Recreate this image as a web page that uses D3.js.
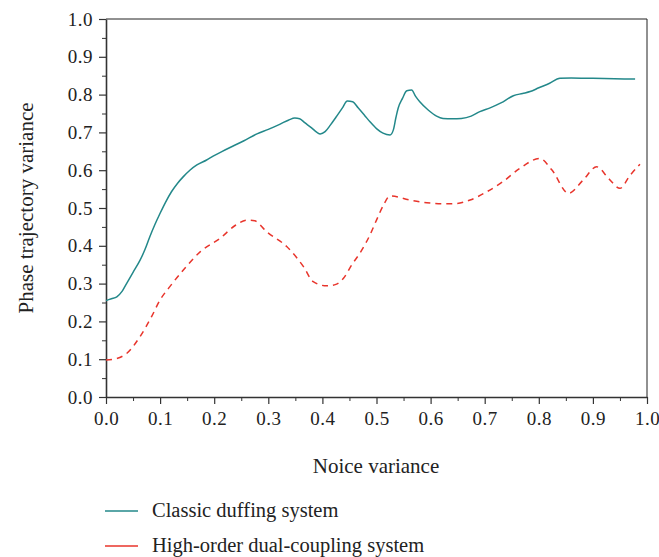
<!DOCTYPE html>
<html>
<head>
<meta charset="utf-8">
<script src="https://cdn.jsdelivr.net/npm/d3@7"></script>
<style>
  body { margin: 0; background: #fff; }
  svg text { font-family: "Liberation Serif", "DejaVu Serif", serif; fill: #222; }
</style>
</head>
<body>
<svg id="chart" width="659" height="557"></svg>
<script>
// noise variance (x) and phase trajectory variance (y)
const classicX = [0, 0.01, 0.02, 0.03, 0.038, 0.05, 0.063, 0.072, 0.081, 0.09, 0.1, 0.11, 0.121, 0.132, 0.143, 0.155, 0.168, 0.186, 0.198, 0.215, 0.235, 0.255, 0.279, 0.3, 0.322, 0.338, 0.349, 0.358, 0.368, 0.38, 0.39, 0.396, 0.405, 0.415, 0.425, 0.437, 0.446, 0.456, 0.466, 0.478, 0.488, 0.5, 0.512, 0.525, 0.531, 0.536, 0.54, 0.548, 0.556, 0.565, 0.572, 0.58, 0.595, 0.611, 0.623, 0.64, 0.657, 0.675, 0.691, 0.71, 0.73, 0.753, 0.77, 0.784, 0.8, 0.82, 0.839, 0.86, 0.9, 0.94, 0.978];
const classicY = [0.255, 0.26, 0.265, 0.28, 0.3, 0.33, 0.362, 0.39, 0.424, 0.455, 0.486, 0.515, 0.543, 0.565, 0.583, 0.6, 0.614, 0.627, 0.637, 0.65, 0.664, 0.678, 0.696, 0.708, 0.722, 0.733, 0.738, 0.736, 0.725, 0.712, 0.7, 0.696, 0.702, 0.72, 0.74, 0.765, 0.783, 0.781, 0.765, 0.745, 0.728, 0.71, 0.698, 0.693, 0.706, 0.74, 0.764, 0.79, 0.81, 0.812, 0.796, 0.781, 0.76, 0.743, 0.737, 0.736, 0.737, 0.743, 0.755, 0.765, 0.778, 0.797, 0.803, 0.808, 0.818, 0.83, 0.843, 0.844, 0.843, 0.842, 0.841];

const coupledX = [0, 0.02, 0.038, 0.063, 0.084, 0.1, 0.118, 0.143, 0.174, 0.211, 0.24, 0.26, 0.275, 0.297, 0.334, 0.365, 0.383, 0.408, 0.425, 0.439, 0.454, 0.473, 0.488, 0.5, 0.513, 0.525, 0.562, 0.593, 0.625, 0.648, 0.673, 0.704, 0.734, 0.765, 0.802, 0.824, 0.855, 0.882, 0.907, 0.929, 0.95, 0.969, 0.987];
const coupledY = [0.098, 0.102, 0.115, 0.16, 0.212, 0.257, 0.292, 0.336, 0.384, 0.42, 0.455, 0.468, 0.466, 0.437, 0.398, 0.345, 0.305, 0.294, 0.298, 0.314, 0.349, 0.389, 0.429, 0.468, 0.508, 0.532, 0.521, 0.514, 0.511, 0.512, 0.521, 0.543, 0.57, 0.605, 0.631, 0.601, 0.539, 0.574, 0.609, 0.578, 0.552, 0.587, 0.616];

const xTicks = [0, 0.1, 0.2, 0.3, 0.4, 0.5, 0.6, 0.7, 0.8, 0.9, 1.0];
const yTicks = [0, 0.1, 0.2, 0.3, 0.4, 0.5, 0.6, 0.7, 0.8, 0.9, 1.0];
const minorTicks = [0.05, 0.15, 0.25, 0.35, 0.45, 0.55, 0.65, 0.75, 0.85, 0.95];
const seriesNames = ["Classic duffing system", "High-order dual-coupling system"];

const svg = d3.select("svg#chart");
const margin = { top: 19, right: 12, bottom: 160, left: 106 };
const width = 659 - margin.left - margin.right;
const height = 557 - margin.top - margin.bottom;

const x = d3.scaleLinear().domain([0, 1]).range([0, width]);
const y = d3.scaleLinear().domain([0, 1]).range([height, 0]);

const g = svg.append("g").attr("transform", `translate(${margin.left},${margin.top})`);

// frame (top / right)
g.append("line").attr("x1", 0).attr("x2", width).attr("y1", 0).attr("y2", 0)
    .attr("stroke", "#222").attr("stroke-width", 1);
g.append("line").attr("x1", width).attr("x2", width).attr("y1", 0).attr("y2", height)
    .attr("stroke", "#222").attr("stroke-width", 1);

// minor ticks
g.append("g").attr("transform", `translate(0,${height})`)
    .call(d3.axisBottom(x).tickValues(minorTicks).tickSize(4).tickFormat(""))
    .call(a => a.select(".domain").remove());
g.append("g")
    .call(d3.axisLeft(y).tickValues(minorTicks).tickSize(4).tickFormat(""))
    .call(a => a.select(".domain").remove());

const xAxis = g.append("g").attr("transform", `translate(0,${height})`)
    .call(d3.axisBottom(x).tickValues(xTicks).tickSize(7).tickSizeOuter(0).tickPadding(8).tickFormat(d3.format(".1f")));
const yAxis = g.append("g")
    .call(d3.axisLeft(y).tickValues(yTicks).tickSize(7).tickSizeOuter(0).tickPadding(6).tickFormat(d3.format(".1f")));

[xAxis, yAxis].forEach(a => {
    a.attr("font-family", null);
    a.select(".domain").attr("stroke", "#333").attr("stroke-width", 1.6);
    a.selectAll(".tick line").attr("stroke", "#333").attr("stroke-width", 1.2);
    a.selectAll(".tick text").attr("font-size", 19).attr("letter-spacing", 0.5).attr("fill", "#222");
});
g.selectAll(".tick line").attr("stroke", "#333");

const line = d3.line().curve(d3.curveMonotoneX).x(d => x(d[0])).y(d => y(d[1]));

g.append("path")
    .datum(classicX.map((v, i) => [v, classicY[i]]))
    .attr("fill", "none")
    .attr("stroke", "#23888a")
    .attr("stroke-width", 1.5)
    .attr("d", line);

g.append("path")
    .datum(coupledX.map((v, i) => [v, coupledY[i]]))
    .attr("fill", "none")
    .attr("stroke", "#e8342b")
    .attr("stroke-width", 1.5)
    .attr("stroke-dasharray", "6,5")
    .attr("d", line);

// axis titles
svg.append("text")
    .attr("x", 376)
    .attr("y", 473)
    .attr("text-anchor", "middle")
    .attr("font-size", 21)
    .text("Noice variance");

svg.append("text")
    .attr("transform", `translate(33,208) rotate(-90)`)
    .attr("text-anchor", "middle")
    .attr("font-size", 21)
    .text("Phase trajectory variance");

// legend
const legendColors = ["#23888a", "#e8342b"];
const legend = svg.append("g").attr("transform", "translate(105,511)");
seriesNames.forEach((name, i) => {
    legend.append("line")
        .attr("x1", 0).attr("x2", 33)
        .attr("y1", i * 35).attr("y2", i * 35)
        .attr("stroke", legendColors[i]).attr("stroke-width", 1.5);
    legend.append("text")
        .attr("x", 47).attr("y", i * 35 + 6)
        .attr("font-size", 20.5)
        .text(name);
});
</script>
</body>
</html>
